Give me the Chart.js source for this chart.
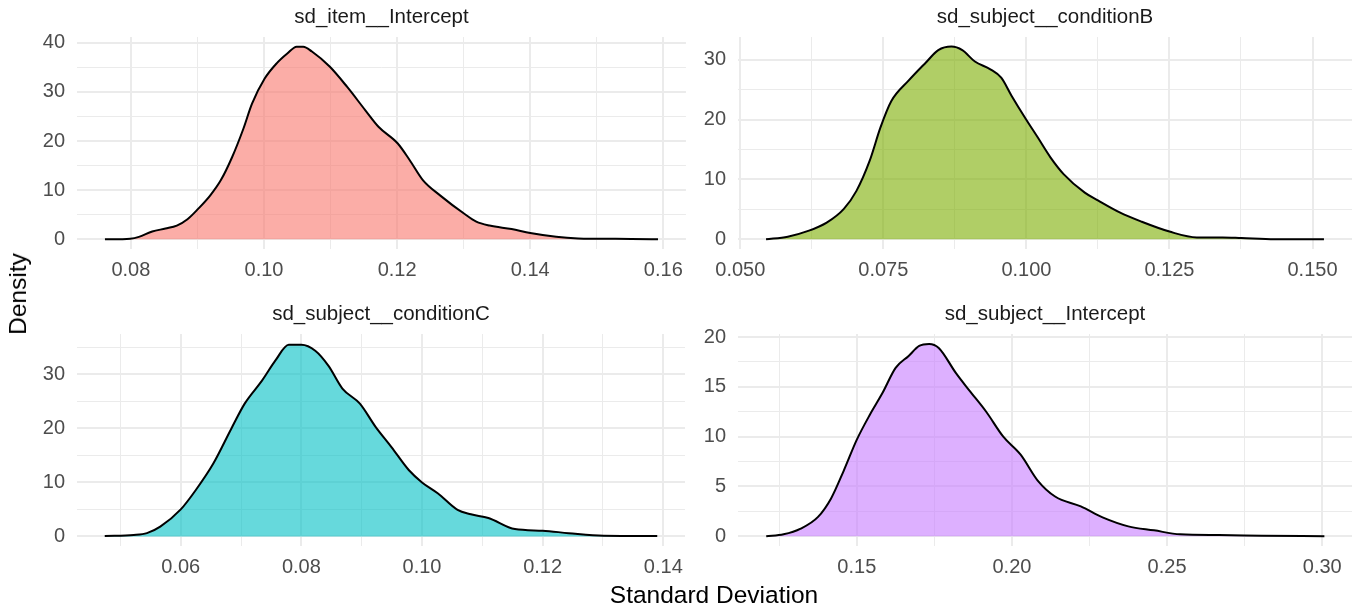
<!DOCTYPE html>
<html>
<head>
<meta charset="utf-8">
<script src="https://cdn.jsdelivr.net/npm/chart.js@4/dist/chart.umd.min.js"></script>
<style>
  body { margin: 0; background: #fff; }
  #wrap { position: relative; width: 1353px; height: 609px; font-family: "Liberation Sans", Arial, sans-serif; }
  canvas { position: absolute; }
  .axis-title { position: absolute; font-size: 24.5px; color: #000; white-space: nowrap; }
</style>
</head>
<body>
<div id="wrap">
  <canvas id="c1" width="692" height="295" style="left:0px;top:0px"></canvas>
  <canvas id="c2" width="661" height="295" style="left:692px;top:0px"></canvas>
  <canvas id="c3" width="692" height="295" style="left:0px;top:297px"></canvas>
  <canvas id="c4" width="661" height="295" style="left:692px;top:297px"></canvas>
  <div class="axis-title" id="ytitle" style="left:18px;top:294px;transform:translate(-50%,-50%) rotate(-90deg)">Density</div>
  <div class="axis-title" id="xtitle" style="left:714px;top:595px;transform:translate(-50%,-50%)">Standard Deviation</div>
</div>
<script>
// density curves
const itemX = [0.0761, 0.0799, 0.0812, 0.0832, 0.0852, 0.0869, 0.0885, 0.0901, 0.0919, 0.0935, 0.0952, 0.0969, 0.0982, 0.1001, 0.1019, 0.1035, 0.1049, 0.1059, 0.1072, 0.1099, 0.1125, 0.1152, 0.1172, 0.1201, 0.1219, 0.1239, 0.1265, 0.1301, 0.1319, 0.1339, 0.1372, 0.1400, 0.1439, 0.1472, 0.1501, 0.1552, 0.1592];
const itemY = [0, 0.14, 0.5, 1.6, 2.2, 2.8, 4.1, 6.2, 8.9, 12.0, 16.7, 22.5, 27.6, 32.7, 35.8, 37.8, 39.2, 39.2, 38.2, 35.1, 31.0, 26.3, 22.9, 19.5, 16.1, 12.0, 8.9, 5.2, 3.6, 2.8, 2.1, 1.3, 0.54, 0.2, 0.14, 0.07, 0];

const condBX = [0.0545, 0.0583, 0.0620, 0.0651, 0.0681, 0.0703, 0.0726, 0.0745, 0.0764, 0.0794, 0.0824, 0.0846, 0.0869, 0.0888, 0.0910, 0.0937, 0.0956, 0.0974, 0.0999, 0.1020, 0.1042, 0.1065, 0.1102, 0.1125, 0.1163, 0.1200, 0.1250, 0.1298, 0.1343, 0.1376, 0.1434, 0.1520];
const condBY = [0, 0.45, 1.45, 2.8, 5.1, 8.1, 13.1, 18.7, 23.1, 26.5, 29.5, 31.6, 32.2, 31.6, 29.7, 28.4, 27.0, 24.0, 20.1, 17.0, 13.7, 10.9, 7.8, 6.5, 4.5, 3.0, 1.3, 0.33, 0.33, 0.22, 0.02, 0];

const condCX = [0.0474, 0.0522, 0.0544, 0.0566, 0.0600, 0.0625, 0.0654, 0.0684, 0.0706, 0.0735, 0.0757, 0.0779, 0.0800, 0.0823, 0.0845, 0.0868, 0.0897, 0.0923, 0.0949, 0.0978, 0.1000, 0.1026, 0.1059, 0.1081, 0.1110, 0.1154, 0.1200, 0.1243, 0.1301, 0.1390];
const condCY = [0.06, 0.25, 0.6, 1.8, 5.0, 8.6, 13.5, 20.0, 24.6, 28.9, 32.6, 35.5, 35.5, 34.4, 31.6, 27.4, 24.6, 20.3, 16.6, 12.3, 10.0, 8.0, 4.9, 4.1, 3.4, 1.35, 1.05, 0.6, 0.12, 0.06];

const subjX = [0.1208, 0.1264, 0.1319, 0.1375, 0.1417, 0.1458, 0.1500, 0.1542, 0.1583, 0.1625, 0.1667, 0.1701, 0.1733, 0.1764, 0.1819, 0.1861, 0.1917, 0.1972, 0.2028, 0.2083, 0.2139, 0.2222, 0.2292, 0.2375, 0.2458, 0.2542, 0.2667, 0.2806, 0.3007];
const subjY = [0, 0.2, 0.77, 1.95, 3.8, 6.6, 9.7, 12.2, 14.4, 16.9, 18.1, 19.1, 19.3, 18.9, 16.4, 14.7, 12.5, 10.0, 8.2, 5.6, 4.0, 3.0, 1.9, 1.0, 0.6, 0.2, 0.13, 0.07, 0];

// tick labels (major) and minor grid positions
const itemXTicks = [0.08, 0.10, 0.12, 0.14, 0.16];
const itemXMinor = [0.09, 0.11, 0.13, 0.15];
const itemYTicks = [0, 10, 20, 30, 40];
const itemYMinor = [5, 15, 25, 35];

const condBXTicks = [0.050, 0.075, 0.100, 0.125, 0.150];
const condBXMinor = [0.0625, 0.0875, 0.1125, 0.1375];
const condBYTicks = [0, 10, 20, 30];
const condBYMinor = [5, 15, 25];

const condCXTicks = [0.06, 0.08, 0.10, 0.12, 0.14];
const condCXMinor = [0.05, 0.07, 0.09, 0.11, 0.13];
const condCYTicks = [0, 10, 20, 30];
const condCYMinor = [5, 15, 25, 35];

const subjXTicks = [0.15, 0.20, 0.25, 0.30];
const subjXMinor = [0.125, 0.175, 0.225, 0.275];
const subjYTicks = [0, 5, 10, 15, 20];
const subjYMinor = [2.5, 7.5, 12.5, 17.5];

const FONT = '"Liberation Sans", Arial, sans-serif';

function makeAxis(major, minor, min, max, digits, isX) {
  return {
    type: 'linear',
    min: min,
    max: max,
    border: { display: false },
    grid: {
      drawTicks: false,
      color: '#EBEBEB',
      lineWidth: function(ctx) {
        if (ctx.tick && major.indexOf(ctx.tick.value) >= 0) return 2;
        return 1;
      }
    },
    ticks: {
      autoSkip: false,
      maxRotation: 0,
      padding: isX ? 9 : 12,
      color: '#4D4D4D',
      font: { family: FONT, size: 20 },
      callback: function(v) {
        if (major.indexOf(v) < 0) return '';
        return digits > 0 ? v.toFixed(digits) : String(v);
      }
    },
    afterBuildTicks: function(scale) {
      scale.ticks = major.concat(minor).sort(function(a, b) { return a - b; })
        .map(function(v) { return { value: v }; });
    },
    afterFit: function(scale) {
      if (isX) scale.height = 46;
    }
  };
}

function drawPanel(id, title, xs, ys, color, xAxis, yAxis, leftW, padRight) {
  const pts = [];
  for (let i = 0; i < xs.length; i++) pts.push({ x: xs[i], y: ys[i] });
  yAxis.afterFit = function(scale) { scale.width = leftW; };
  new Chart(document.getElementById(id), {
    type: 'line',
    data: {
      datasets: [{
        data: pts,
        borderColor: '#000',
        borderWidth: 2,
        backgroundColor: color,
        fill: 'origin',
        pointRadius: 0,
        cubicInterpolationMode: 'monotone'
      }]
    },
    options: {
      responsive: false,
      animation: false,
      layout: { padding: { left: 0, right: padRight, top: 0, bottom: 0 } },
      plugins: {
        legend: { display: false },
        tooltip: { enabled: false },
        title: {
          display: true,
          text: title,
          fullSize: false,
          color: '#1A1A1A',
          font: { family: FONT, size: 20.5, weight: 'normal' },
          padding: { top: 5.5, bottom: 6.9 }
        }
      },
      scales: { x: xAxis, y: yAxis }
    }
  });
}

drawPanel('c1', 'sd_item__Intercept', itemX, itemY, 'rgba(248,118,109,0.6)',
  makeAxis(itemXTicks, itemXMinor, 0.0719, 0.1634, 2, true),
  makeAxis(itemYTicks, itemYMinor, -1.96, 41.16, 0, false), 77, 2);

drawPanel('c2', 'sd_subject__conditionB', condBX, condBY, 'rgba(124,174,0,0.6)',
  makeAxis(condBXTicks, condBXMinor, 0.0496, 0.1569, 3, true),
  makeAxis(condBYTicks, condBYMinor, -1.61, 33.8, 0, false), 46, 1);

drawPanel('c3', 'sd_subject__conditionC', condCX, condCY, 'rgba(0,191,196,0.6)',
  makeAxis(condCXTicks, condCXMinor, 0.0428, 0.1436, 2, true),
  makeAxis(condCYTicks, condCYMinor, -1.78, 37.5, 0, false), 77, 2);

drawPanel('c4', 'sd_subject__Intercept', subjX, subjY, 'rgba(199,124,255,0.6)',
  makeAxis(subjXTicks, subjXMinor, 0.1117, 0.3096, 2, true),
  makeAxis(subjYTicks, subjYMinor, -0.97, 20.3, 0, false), 46, 1);
</script>
</body>
</html>
